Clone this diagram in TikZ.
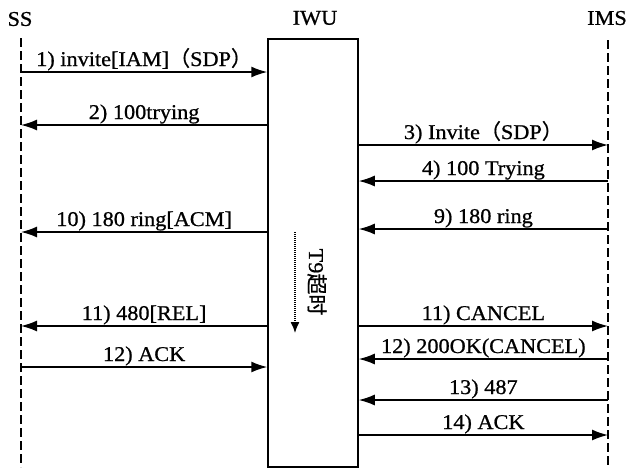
\documentclass[tikz,border=0pt]{standalone}
\usepackage{fontspec}
\setmainfont[FakeStretch=1.06, FakeBold=0.8]{Liberation Serif}
\newfontfamily\cjk[FakeBold=0.8]{Noto Sans CJK SC}
\usetikzlibrary{arrows.meta}

\begin{document}
\begin{tikzpicture}[x=1pt, y=-1pt, >={Latex[length=16pt,width=11pt]},
    font=\fontsize{21}{24}\selectfont,
    life/.style={line width=1.5pt, dash pattern=on 9pt off 4pt},
    msg/.style={line width=1.5pt, ->},
    lbl/.style={midway, anchor=base, yshift=6pt, inner sep=0pt}]
    \useasboundingbox (0,0) rectangle (627,467);

    % Entities
    \node (ss)  at (20,19)  {SS};
    \node (iwu) at (315,18) {IWU};
    \node (ims) at (607,18) {IMS};
    \node (box) [draw, line width=1.5pt, anchor=north, minimum width=90pt,
        minimum height=428pt, inner sep=0pt] at (313,38) {};
    \coordinate (ssl) at (21,38);
    \coordinate (imsl) at (608,40);
    \draw[life] (ssl) -- (ssl |- 0,467);
    \draw[life] (imsl) -- (imsl |- 0,467);

    % SS <-> IWU
    \foreach \y/\a/\b/\t in {
        72/ssl/box.west/{1) invite[IAM]{\cjk （}SDP{\cjk ）}},
        125/box.west/ssl/{2) 100trying},
        232/box.west/ssl/{10) 180 ring[ACM]},
        326/box.west/ssl/{11) 480[REL]},
        367/ssl/box.west/{12) ACK}}
    \draw[msg] (\a |- 0,\y) -- (\b |- 0,\y) node[lbl] {\t};

    % IWU <-> IMS
    \foreach \y/\a/\b/\t in {
        145/box.east/imsl/{3) Invite{\cjk （}SDP{\cjk ）}},
        181/imsl/box.east/{4) 100 Trying},
        229/imsl/box.east/{9) 180 ring},
        326/box.east/imsl/{11) CANCEL},
        359/imsl/box.east/{12) 200OK(CANCEL)},
        400/imsl/box.east/{13) 487},
        435/box.east/imsl/{14) ACK}}
    \draw[msg] (\a |- 0,\y) -- (\b |- 0,\y) node[lbl] {\t};

    % Timer
    \coordinate (t9top) at (295,232);
    \coordinate (t9bot) at (295,333);
    \draw[line width=1.3pt, dash pattern=on 1pt off 1pt,
        -{Latex[length=11pt,width=9pt]}] (t9top) -- (t9bot);
    \node[rotate=-90] (t9) at (317,282) {T9{\cjk 超时}};
\end{tikzpicture}
\end{document}
